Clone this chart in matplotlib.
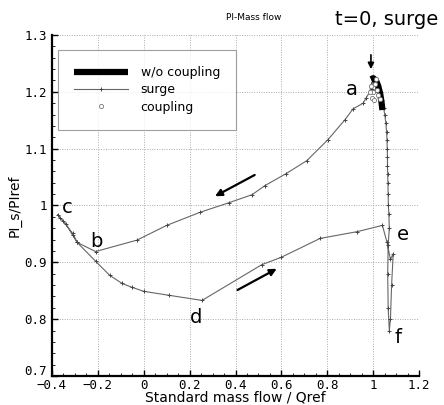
import matplotlib
matplotlib.use("Agg")
import matplotlib.pyplot as plt
import matplotlib.transforms as mtransforms
from matplotlib.ticker import MultipleLocator

# w/o coupling (steady characteristic near the top)
nocoup_x = [0.990, 1.000, 1.012, 1.022, 1.030, 1.036, 1.040]
nocoup_y = [1.222, 1.224, 1.220, 1.210, 1.197, 1.182, 1.168]

# surge cycle
surge_x = [1.000, 0.990, 0.985, 0.970, 0.956, 0.912, 0.877, 0.803, 0.711, 0.620,
           0.528, 0.472, 0.372, 0.245, 0.100, -0.030, -0.210, -0.290, -0.310, -0.350,
           -0.375, -0.365, -0.340, -0.310, -0.290, -0.210, -0.148, -0.095, -0.051, 0.000,
           0.110, 0.254, 0.515, 0.600, 0.768, 0.930, 1.040, 1.060, 1.075, 1.087,
           1.080, 1.075, 1.070, 1.065, 1.063, 1.065, 1.070, 1.068, 1.066, 1.065,
           1.064, 1.063, 1.062, 1.062, 1.061, 1.060, 1.058, 1.055, 1.050, 1.045,
           1.040, 1.030, 1.020, 1.010, 1.000, 0.995, 1.005, 1.015]
surge_y = [1.222, 1.212, 1.200, 1.190, 1.180, 1.170, 1.151, 1.116, 1.079, 1.056,
           1.035, 1.019, 1.005, 0.988, 0.965, 0.939, 0.919, 0.935, 0.951, 0.972,
           0.984, 0.978, 0.968, 0.948, 0.935, 0.902, 0.877, 0.863, 0.856, 0.849,
           0.842, 0.833, 0.896, 0.909, 0.942, 0.954, 0.965, 0.935, 0.905, 0.915,
           0.860, 0.800, 0.780, 0.820, 0.880, 0.930, 0.960, 0.985, 1.000, 1.020,
           1.040, 1.055, 1.070, 1.085, 1.100, 1.115, 1.130, 1.145, 1.160, 1.172,
           1.185, 1.198, 1.208, 1.215, 1.218, 1.205, 1.200, 1.210]

# coupling points
coup_x = [0.990, 1.000, 1.008, 0.995, 1.015, 1.022, 1.005, 1.012, 0.985, 1.028]
coup_y = [1.210, 1.200, 1.214, 1.190, 1.203, 1.195, 1.185, 1.222, 1.200, 1.188]

xticks = [-0.4, -0.2, 0, 0.2, 0.4, 0.6, 0.8, 1, 1.2]
xticklabels = ["\u22120.4", "\u22120.2", "0", "0.2", "0.4", "0.6", "0.8", "1", "1.2"]
yticks = [0.7, 0.8, 0.9, 1.0, 1.1, 1.2, 1.3]
yticklabels = ["0.7", "0.8", "0.9", "1", "1.1", "1.2", "1.3"]

fig = plt.figure(figsize=(4.44, 4.05), dpi=100)
ax = fig.add_axes([0.117, 0.0716, 0.827, 0.842])

ax.plot(nocoup_x, nocoup_y, color="black", lw=4.5, solid_capstyle="butt",
        label="w/o coupling", zorder=4)
ax.plot(surge_x, surge_y, color="#666666", lw=0.8, marker="+", ms=3,
        mew=0.7, mec="#444444", label="surge", zorder=3)
ax.plot(coup_x, coup_y, ls="none", marker="o", ms=3, mfc="white",
        mec="#777777", mew=0.6, label="coupling", zorder=5)

ax.set_xlim(-0.4, 1.2)
ax.set_ylim(0.7, 1.3)
ax.set_xticks(xticks)
ax.set_xticklabels(xticklabels, family="DejaVu Sans Mono", fontsize=9)
ax.set_yticks(yticks)
ax.set_yticklabels(yticklabels, family="DejaVu Sans Mono", fontsize=9)
ax.xaxis.set_minor_locator(MultipleLocator(0.05))
ax.yaxis.set_minor_locator(MultipleLocator(0.02))
ax.tick_params(which="both", direction="in", top=False, right=False)
ax.tick_params(which="major", length=4, width=1)
ax.tick_params(axis="x", which="major", pad=2)
ax.tick_params(which="minor", length=2, width=0.6)
ax.grid(True, which="major", ls=(0, (1, 1.5)), color="#aaaaaa", lw=0.7)
for s in ["top", "right"]:
    ax.spines[s].set_visible(False)
for s in ["left", "bottom"]:
    ax.spines[s].set_linewidth(1.6)

# raise the lowest y tick label slightly so it clears the -0.4 label
lbl = ax.get_yticklabels()[0]
lbl.set_transform(lbl.get_transform() +
                  mtransforms.ScaledTranslation(0, 4 / 72, fig.dpi_scale_trans))

ax.set_xlabel("Standard mass flow / Qref", fontsize=10, labelpad=-1)
ax.set_ylabel("PI_s/PIref", fontsize=10, labelpad=2)
ax.set_title("PI-Mass flow", fontsize=6.5, pad=11, x=0.55)

leg = ax.legend(loc="upper left", bbox_to_anchor=(0.0, 0.975), fontsize=9,
                frameon=True, fancybox=False, edgecolor="#888888",
                handlelength=4.3, numpoints=1, borderpad=1.3, labelspacing=0.35,
                handletextpad=1.0)
leg.get_frame().set_linewidth(0.8)

ax.text(1.06, 1.31, "t=0, surge", fontsize=14, ha="center", va="bottom",
        clip_on=False)
ax.annotate("", xy=(0.99, 1.235), xytext=(0.99, 1.27),
            arrowprops=dict(arrowstyle="-|>", color="black", lw=1.2,
                            mutation_scale=9), annotation_clip=False)

labels = ["a", "b", "c", "d", "e", "f"]
lab_x = [0.905, -0.205, -0.335, 0.23, 1.13, 1.11]
lab_y = [1.204, 0.937, 0.997, 0.803, 0.949, 0.768]
for t, x, y in zip(labels, lab_x, lab_y):
    ax.text(x, y, t, fontsize=14, ha="center", va="center")

ax.annotate("", xy=(0.30, 1.014), xytext=(0.494, 1.056),
            arrowprops=dict(arrowstyle="-|>", color="black", lw=1.6,
                            mutation_scale=10))
ax.annotate("", xy=(0.59, 0.891), xytext=(0.398, 0.849),
            arrowprops=dict(arrowstyle="-|>", color="black", lw=1.6,
                            mutation_scale=10))

fig.savefig("out.png", dpi=100)
